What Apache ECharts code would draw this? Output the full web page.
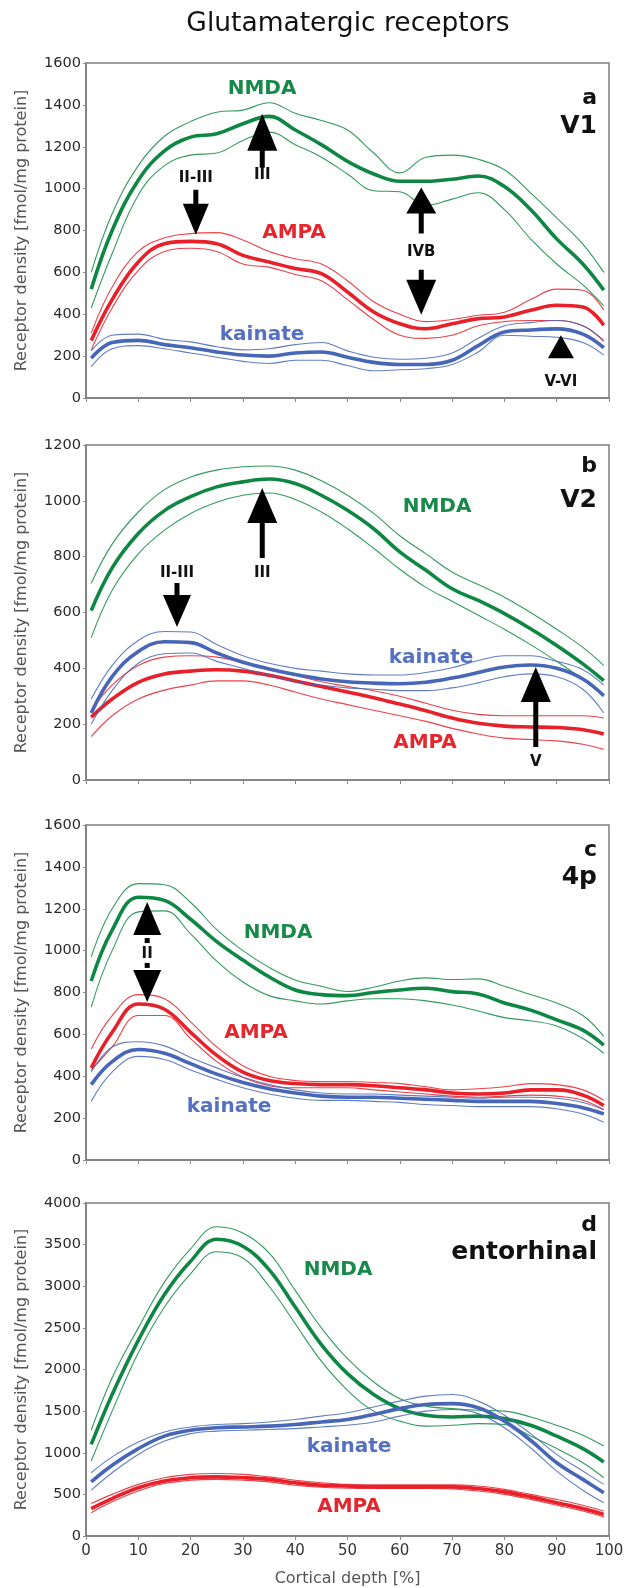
<!DOCTYPE html>
<html>
<head>
<meta charset="utf-8">
<script src="https://cdn.jsdelivr.net/npm/echarts@6/dist/echarts.min.js"></script>
<style>html,body{margin:0;padding:0;background:#fff}#c{width:632px;height:1588px}</style>
</head>
<body>
<div id="c"></div>
<script>
// ---------- DATA ----------
const title = 'Glutamatergic receptors';
const yName = 'Receptor density [fmol/mg protein]';
const xName = 'Cortical depth [%]';
const depth = [1,5,10,15,20,25,30,35,40,45,50,55,60,65,70,75,80,85,90,95,99];
const xTicks = [0,10,20,30,40,50,60,70,80,90,100];
const panelLetters = ['a','b','c','d'];
const panelAreas = ['V1','V2','4p','entorhinal'];
const yMax = [1600,1200,1600,4000];
const yStep = [200,200,200,500];
const receptors = ['NMDA','AMPA','kainate'];

// Panel a (V1)
const aNmdaMean = [520,800,1040,1180,1246,1262,1310,1345,1280,1210,1130,1070,1035,1035,1045,1060,1010,900,760,640,515];
const aNmdaHi   = [600,880,1110,1250,1320,1365,1375,1410,1360,1325,1280,1170,1075,1150,1160,1140,1090,980,860,735,600];
const aNmdaLo   = [430,690,970,1110,1160,1170,1230,1270,1210,1150,1070,990,985,920,950,980,900,760,640,540,440];
const aAmpaMean = [275,470,650,737,748,737,681,650,618,594,506,411,355,331,355,379,387,419,443,435,347];
const aAmpaHi   = [310,530,700,765,785,790,755,700,665,640,560,460,400,365,375,395,410,470,520,515,420];
const aAmpaLo   = [230,430,610,700,715,700,640,625,590,560,470,375,300,285,300,345,365,370,370,345,270];
const aKainMean = [190,265,275,255,240,220,205,200,215,220,195,170,160,160,180,250,315,325,330,305,240];
const aKainHi   = [225,300,305,280,268,245,230,235,255,265,225,195,185,190,215,285,345,360,370,345,275];
const aKainLo   = [150,235,250,235,215,195,175,165,180,180,155,130,135,140,160,220,300,295,290,265,205];

// Panel b (V2)
const bNmdaMean = [607,760,883,965,1015,1050,1068,1078,1062,1020,966,900,817,751,685,643,596,542,482,416,356];
const bNmdaHi   = [705,845,960,1040,1085,1110,1122,1125,1110,1072,1020,955,875,810,745,700,655,600,540,475,410];
const bNmdaLo   = [510,680,810,895,955,995,1020,1028,1005,960,900,830,755,690,640,590,540,485,425,360,300];
const bAmpaMean = [225,290,350,380,390,395,390,375,355,335,315,295,272,248,222,203,193,190,188,180,165];
const bAmpaHi   = [250,340,410,440,445,440,420,398,375,352,335,320,300,275,250,235,230,230,230,230,222];
const bAmpaLo   = [155,230,290,322,340,355,355,340,315,290,270,250,230,210,185,165,150,145,140,128,110];
const bKainMean = [240,370,460,495,492,455,422,398,378,362,352,347,345,350,365,385,405,412,400,362,302];
const bKainHi   = [290,410,500,532,530,485,445,418,400,390,380,376,376,385,402,428,445,445,425,395,340];
const bKainLo   = [200,320,418,452,455,425,400,375,352,340,330,325,320,320,330,348,370,380,370,325,240];

// Panel c (4p)
const cNmdaMean = [855,1098,1255,1240,1150,1043,955,875,812,790,785,800,812,820,804,793,750,716,669,620,549];
const cNmdaHi   = [970,1200,1320,1315,1230,1100,1000,920,860,830,805,825,855,870,862,865,830,790,750,690,590];
const cNmdaLo   = [730,1000,1185,1190,1080,950,850,785,760,745,760,770,770,760,740,712,680,665,640,580,510];
const cAmpaMean = [440,610,745,720,610,500,420,380,365,360,360,355,345,335,320,315,320,335,335,310,260];
const cAmpaHi   = [530,690,790,770,660,540,450,400,380,375,375,370,365,350,335,340,350,365,360,335,285];
const cAmpaLo   = [430,540,690,690,580,470,395,355,345,345,345,335,325,315,305,300,305,310,305,285,240];
const cKainMean = [360,470,528,510,460,410,370,340,320,305,300,300,295,290,285,280,280,280,270,250,220];
const cKainHi   = [420,540,565,545,490,440,395,360,335,320,315,315,310,305,300,295,300,300,295,275,240];
const cKainLo   = [280,420,495,480,430,385,345,315,295,285,285,280,275,265,260,255,255,255,245,220,180];

// Panel d (entorhinal)
const dNmdaMean = [1100,1700,2350,2900,3300,3565,3480,3200,2750,2300,1950,1700,1530,1450,1430,1440,1410,1330,1200,1050,890];
const dNmdaHi   = [1270,1900,2500,3050,3450,3715,3640,3400,2950,2500,2130,1850,1650,1560,1530,1510,1500,1430,1330,1210,1080];
const dNmdaLo   = [900,1500,2200,2750,3150,3415,3340,3000,2550,2100,1750,1500,1380,1320,1330,1350,1340,1200,1050,880,700];
const dAmpaMean = [330,450,580,660,700,710,700,680,640,610,600,590,590,590,590,570,530,470,400,330,260];
const dAmpaHi   = [390,500,620,700,740,750,740,710,670,640,620,615,615,615,615,600,560,500,440,370,300];
const dAmpaLo   = [280,410,540,630,670,680,670,650,610,585,575,570,570,570,565,540,500,440,370,300,230];
const dKainMean = [650,850,1050,1200,1270,1300,1310,1320,1340,1370,1400,1460,1530,1580,1590,1540,1380,1150,880,680,520];
const dKainHi   = [760,950,1130,1250,1310,1340,1350,1370,1400,1440,1480,1550,1620,1680,1700,1620,1450,1230,980,780,620];
const dKainLo   = [550,760,980,1140,1230,1260,1270,1280,1290,1310,1330,1370,1440,1500,1520,1470,1300,1060,780,550,400];

// Layer annotations: arrow tip in data coordinates
const arrowNotes = [
  {panel:0, label:'II-III', depth:21.0, value:780,  dir:'down'},
  {panel:0, label:'III',    depth:33.7, value:1358, dir:'up'},
  {panel:0, label:'IVB',    depth:64.1, value:1005, dir:'up'},
  {panel:0, label:'',       depth:64.1, value:398,  dir:'down'},
  {panel:0, label:'V-VI',   depth:90.8, value:300,  dir:'up'},
  {panel:1, label:'II-III', depth:17.4, value:548,  dir:'down'},
  {panel:1, label:'III',    depth:33.7, value:1046, dir:'up'},
  {panel:1, label:'V',      depth:86.0, value:405,  dir:'up'},
  {panel:2, label:'II',     depth:11.7, value:1232, dir:'both', value2:755}
];

// ---------- STYLE / LAYOUT ----------
const FONT = '"DejaVu Sans", "Liberation Sans", sans-serif';
const colors = {NMDA:'#0f8744', AMPA:'#e8202a', kainate:'#4766b8'};
const labelColors = {NMDA:'#17894a', AMPA:'#e5262d', kainate:'#5570c0'};
const gridLeft = 86, gridW = 523, gridH = 335;
const gridTops = [63, 445, 825, 1203];

const panelData = [
  {NMDA:[aNmdaLo,aNmdaHi,aNmdaMean], AMPA:[aAmpaLo,aAmpaHi,aAmpaMean], kainate:[aKainLo,aKainHi,aKainMean]},
  {NMDA:[bNmdaLo,bNmdaHi,bNmdaMean], AMPA:[bAmpaLo,bAmpaHi,bAmpaMean], kainate:[bKainLo,bKainHi,bKainMean]},
  {NMDA:[cNmdaLo,cNmdaHi,cNmdaMean], AMPA:[cAmpaLo,cAmpaHi,cAmpaMean], kainate:[cKainLo,cKainHi,cKainMean]},
  {NMDA:[dNmdaLo,dNmdaHi,dNmdaMean], AMPA:[dAmpaLo,dAmpaHi,dAmpaMean], kainate:[dKainLo,dKainHi,dKainMean]}
];

// receptor label positions (pixels) per panel
const recLabelPos = [
  {NMDA:[262,89],  AMPA:[294,233],  kainate:[262,335]},
  {NMDA:[437,507], AMPA:[425,743],  kainate:[431,658]},
  {NMDA:[278,933], AMPA:[256,1033], kainate:[229,1107]},
  {NMDA:[338,1270],AMPA:[349,1507], kainate:[349,1447]}
];
const letterY = [98, 466, 850, 1225];
const areaY = [126, 500, 877, 1252];

const grids = [], xAxes = [], yAxes = [], series = [];
for (let p = 0; p < 4; p++) {
  grids.push({left: gridLeft, top: gridTops[p], width: gridW, height: gridH, show: true,
    borderColor: '#7d7d7d', borderWidth: 1.5, backgroundColor: 'transparent'});
  const last = p === 3;
  xAxes.push({type: 'value', gridIndex: p, min: 0, max: 100, interval: 10,
    axisLine: {show: true, lineStyle: {color: '#7d7d7d', width: 1.5}},
    axisTick: {show: true, length: 4, lineStyle: {color: '#8a8a8a'}},
    splitLine: {show: false},
    axisLabel: {show: last, color: '#333', fontSize: 15, fontFamily: FONT, margin: 8,
      formatter: v => xTicks.indexOf(v) >= 0 ? String(v) : ''},
    name: last ? xName : '', nameLocation: 'middle', nameGap: 35,
    nameTextStyle: {color: '#555', fontSize: 16, fontFamily: FONT}});
  yAxes.push({type: 'value', gridIndex: p, min: 0, max: yMax[p], interval: yStep[p],
    axisLine: {show: true, lineStyle: {color: '#7d7d7d', width: 1.5}},
    axisTick: {show: true, length: 3, lineStyle: {color: '#8a8a8a'}},
    splitLine: {show: false},
    axisLabel: {color: '#2a2a2a', fontSize: 14.5, fontFamily: FONT, margin: 5,
      formatter: v => String(v)},
    name: yName, nameLocation: 'middle', nameRotate: 90, nameGap: 56,
    nameTextStyle: {color: '#555', fontSize: 16, fontFamily: FONT}});
  receptors.forEach(r => {
    const [lo, hi, mean] = panelData[p][r];
    [[lo,1.1],[hi,1.1],[mean,3.6]].forEach(([vals, w]) => {
      series.push({type: 'line', xAxisIndex: p, yAxisIndex: p, smooth: 0.4,
        symbol: 'none', silent: true, animation: false,
        data: depth.map((d, i) => [d, vals[i]]),
        lineStyle: {color: colors[r], width: w, opacity: w > 2 ? 1 : 0.85}});
    });
  });
}

const chart = echarts.init(document.getElementById('c'), null, {renderer: 'canvas'});
chart.setOption({animation: false, backgroundColor: '#fff',
  grid: grids, xAxis: xAxes, yAxis: yAxes, series: series});

// ---------- ANNOTATIONS ----------
const graphics = [];
function txt(x, y, text, font, fill, align) {
  graphics.push({type: 'text', x: x, y: y, silent: true, z: 10,
    style: {text: text, font: font, fill: fill, textAlign: align || 'center', align: align || 'center',
      textVerticalAlign: 'middle', verticalAlign: 'middle'}});
}
function arrow(x, tipY, dir, headH, headW, shaftLen, shaftW) {
  const s = dir === 'down' ? 1 : -1;
  const base = tipY - s * headH;
  const end = base - s * shaftLen;
  const pts = [[x, tipY], [x + headW / 2, base]];
  if (shaftLen > 0) {
    pts.push([x + shaftW / 2, base], [x + shaftW / 2, end], [x - shaftW / 2, end], [x - shaftW / 2, base]);
  }
  pts.push([x - headW / 2, base]);
  graphics.push({type: 'polygon', silent: true, z: 10, shape: {points: pts}, style: {fill: '#000'}});
}
function rect(x, y, w, h) {
  graphics.push({type: 'rect', silent: true, z: 10, shape: {x: x, y: y, width: w, height: h}, style: {fill: '#000'}});
}

txt(348, 24, title, '26.5px ' + FONT, '#111');
for (let p = 0; p < 4; p++) {
  txt(597, letterY[p], panelLetters[p], 'bold 22px ' + FONT, '#111', 'right');
  txt(597, areaY[p], panelAreas[p], 'bold 25px ' + FONT, '#111', 'right');
  receptors.forEach(r => {
    const [x, y] = recLabelPos[p][r];
    txt(x, y, r, 'bold 20px ' + FONT, labelColors[r]);
  });
}
const LF = 'bold 15px ' + FONT;
arrowNotes.forEach(n => {
  const [px, py] = chart.convertToPixel({gridIndex: n.panel}, [n.depth, n.value]);
  if (n.panel === 0 && n.label === 'II-III') { arrow(px, py, 'down', 31, 26, 14, 5); txt(px, py - 57, n.label, LF, '#111'); }
  else if (n.panel === 0 && n.label === 'III') { arrow(px, py, 'up', 37, 30, 17, 5); txt(px, py + 61, n.label, LF, '#111'); }
  else if (n.label === 'IVB') { arrow(px, py, 'up', 26, 30, 20, 5); txt(px, py + 65, n.label, LF, '#111'); }
  else if (n.panel === 0 && n.label === '') { arrow(px, py, 'down', 35, 30, 10, 5); }
  else if (n.label === 'V-VI') { arrow(px, py, 'up', 23, 26, 0, 5); txt(px, py + 47, n.label, LF, '#111'); }
  else if (n.panel === 1 && n.label === 'II-III') { arrow(px, py, 'down', 32, 28, 12, 5); txt(px, py - 54, n.label, LF, '#111'); }
  else if (n.panel === 1 && n.label === 'III') { arrow(px, py, 'up', 35, 30, 35, 5); txt(px, py + 85, n.label, LF, '#111'); }
  else if (n.label === 'V') { arrow(px, py, 'up', 35, 30, 45, 5); txt(px, py + 95, n.label, LF, '#111'); }
  else if (n.dir === 'both') {
    const py2 = chart.convertToPixel({gridIndex: n.panel}, [n.depth, n.value2])[1];
    arrow(px, py, 'up', 33, 28, 0, 5);
    arrow(px, py2, 'down', 32, 28, 0, 5);
    rect(px - 2.5, py + 36, 5, 5);
    rect(px - 2.5, py2 - 39, 5, 5);
    txt(px, (py + py2) / 2 + 2, n.label, LF, '#111');
  }
});
chart.setOption({graphic: graphics});
</script>
</body>
</html>
